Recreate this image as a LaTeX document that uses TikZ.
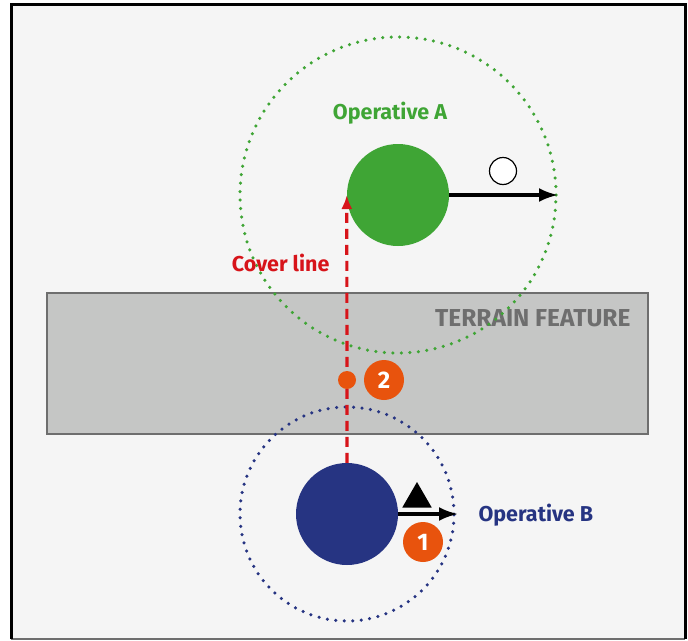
\documentclass[tikz,border=0pt]{standalone}
\usepackage{fontspec}
\setmainfont{Fira Sans}
\usetikzlibrary{shapes.geometric, arrows.meta, positioning}
\definecolor{opAgreen}{HTML}{3FA535}
\definecolor{opBblue}{HTML}{263482}
\definecolor{coverred}{HTML}{D7141A}
\definecolor{steporange}{HTML}{E8530D}
\definecolor{terrainfill}{HTML}{C5C6C5}
\definecolor{terrainline}{HTML}{6E6E6E}
\definecolor{paper}{HTML}{F5F5F5}
\tikzstyle{agent} = [circle, 
			minimum size = 102pt, 
			inner sep = 0pt]
\tikzstyle{reach} = [circle, 
			draw, 
			line width = 3.5pt, 
			line cap = round, 
			dash pattern = on 0pt off 8.5pt, 
			inner sep = 0pt]
\tikzstyle{badge} = [circle, 
			fill = steporange, 
			text = white, 
			minimum size = 40pt, 
			inner sep = 0pt, 
			font = \bfseries\fontsize{24}{24}\selectfont]
\tikzstyle{line} = [draw, line width = 3.2pt, -{Latex[length=19pt, width=14pt]}]
\tikzstyle{opname} = [font = \bfseries\fontsize{21.5}{22}\selectfont]

\begin{document}
\begin{tikzpicture}[x = 1pt, y = -1pt]
	\useasboundingbox (0,0) rectangle (688,640);
	\fill [paper] (11,4) rectangle (685,639);
	\draw [terrainline, line width = 1.5pt] (11,639) -- (685,639);
	\draw [black, line width = 3pt] (11,639) -- (11,4) -- (685,4) -- (685,639);
	\node [rectangle, draw = terrainline, fill = terrainfill, line width = 2pt,
		minimum width = 601pt, minimum height = 141pt, inner sep = 0pt] (terrain) at (347.5,363.5) {};
	\node [opname, text = terrainline, anchor = east, font = \bfseries\fontsize{24.5}{25}\selectfont] (terrainText) at (634,318) {TERRAIN FEATURE};
	\node [reach, draw = opAgreen, minimum size = 316pt] (reachA) at (398,195) {};
	\node [reach, draw = opBblue, minimum size = 214pt] (reachB) at (347,514) {};
	\node [agent, fill = opAgreen] (opA) at (398,195) {};
	\node [agent, fill = opBblue] (opB) at (347,514) {};
	\node [opname, text = opAgreen] (nameA) at (390,113) {Operative A};
	\node [opname, text = opBblue, anchor = west] (nameB) at (475,515) {Operative B};
	\coordinate (moveA) at (558,195);
	\coordinate (moveB) at (458,514);
	\path [line] (opA.east) -- (moveA);
	\path [line] (opB.east) -- (moveB);
	\node [circle, draw, fill = white, line width = 1.2pt, minimum size = 27pt, inner sep = 0pt] (token) at (503,171) {};
	\node [regular polygon, regular polygon sides = 3, fill = black, minimum size = 34pt, inner sep = 0pt] (marker) at (417,499) {};
	\draw [coverred, line width = 3.2pt, dash pattern = on 10pt off 6pt,
		-{Latex[length=14pt, width=11pt]}] (opB.north) -- (opA.west);
	\node [opname, text = coverred, anchor = east] (coverText) at (333,263) {Cover line};
	\node [circle, fill = steporange, minimum size = 18pt, inner sep = 0pt] (stopDot) at (347,380) {};
	\node [badge] (two) at (384,380) {2};
	\node [badge] (one) at (423,542) {1};
\end{tikzpicture}
\end{document}
